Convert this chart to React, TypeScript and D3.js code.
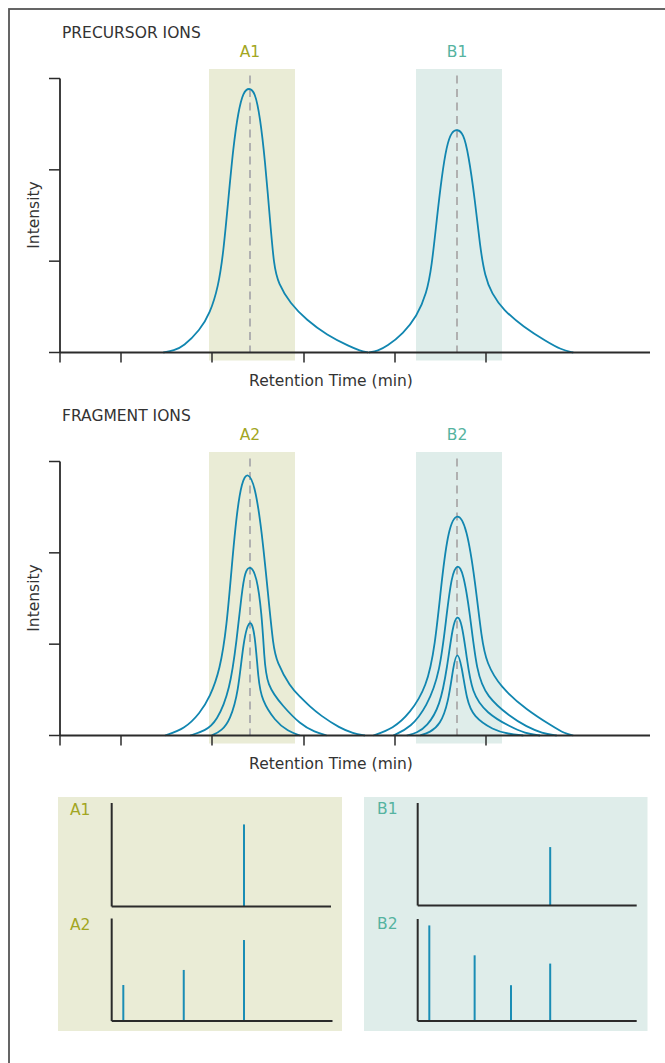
import React from 'react';
import * as d3 from 'd3';

const W = 665;
const H = 1063;
const FONT = "'DejaVu Sans', Verdana, sans-serif";
const FS = 15.5;
const CURVE_COLOR = '#1186b0';
const STICK_COLOR = '#1a8db5';
const A_COLOR = '#a2a622';
const B_COLOR = '#55b3a0';
const A_SHADE = '#eaecd6';
const B_SHADE = '#dfedea';
const AXIS = '#2b2b2b';
const TEXT = '#333333';

// Retention-time axis (arbitrary units) and intensity axis
const X_TICKS = [0, 6.1, 15.2, 24.4, 33.5, 42.6];
const Y_TICKS = [0, 100, 200, 300];
const PEAK_CENTERS = [19.0, 39.7];
const WINDOWS: [number, number][] = [[14.9, 23.5], [35.6, 44.2]];
const TOP_LABELS = ['A1', 'B1'];
const BOTTOM_LABELS = ['A2', 'B2'];

// Precursor chromatograms [time, intensity]
const A1_TRACE: [number, number][] = [
  [10.33, 0], [11.4, 2.2], [12.33, 6.4], [14.0, 24.6], [15.0, 42.9], [15.83, 72.0], [16.33, 108.6],
  [16.83, 167], [17.33, 225.3], [17.83, 264.0], [18.33, 285.5], [18.9, 290.0], [19.5, 285.5],
  [20.0, 258.2], [20.5, 210.8], [21.0, 145.1], [21.4, 93.9], [21.83, 75.8], [23.0, 53.9],
  [24.67, 35.6], [26.67, 19.2], [29.0, 6.4], [30.0, 2.0], [30.8, 0],
];
const B1_TRACE: [number, number][] = [
  [30.9, 0], [31.8, 2.0], [32.67, 6.4], [34.33, 21.0], [35.67, 39.2], [36.67, 64.8], [37.17, 93.9],
  [37.67, 145.1], [38.17, 192.5], [38.67, 227.0], [39.17, 242.0], [39.73, 244.5], [40.33, 240.0],
  [40.83, 218.1], [41.5, 167.0], [42.0, 115.8], [42.5, 83.0], [43.17, 64.8], [44.33, 46.5],
  [46.33, 28.2], [48.67, 11.8], [50.1, 3.2], [51.33, 0],
];

// Fragment chromatograms
const A2_TRACE_1: [number, number][] = [
  [10.5, 0], [12.5, 7.5], [14.0, 24.6], [15.0, 42.2], [16.0, 71.7], [16.67, 119.1], [17.17, 184.8],
  [17.67, 243.3], [18.17, 278.0], [18.77, 289.0], [19.5, 274.0], [20.17, 225.0], [20.83, 152.0],
  [21.33, 97.2], [21.67, 80.8], [23.0, 53.4], [24.0, 42.5], [25.0, 31.5], [26.0, 22.4],
  [28.0, 7.9], [29.3, 2.5], [30.5, 0],
];
const A2_TRACE_2: [number, number][] = [
  [13.0, 0], [14.5, 5.0], [15.67, 15.1], [17.0, 49.8], [17.67, 104.6], [18.17, 155.7], [18.5, 179.5],
  [19.0, 186.5], [19.67, 175.5], [20.17, 133.8], [20.43, 86.3], [20.65, 55.0], [22.33, 31.5],
  [24.0, 12.6], [25.5, 3.5], [26.67, 0],
];
const A2_TRACE_3: [number, number][] = [
  [15.17, 0], [16.2, 5.5], [17.0, 17.0], [17.83, 46.2], [18.33, 104.6], [19.0, 130.0], [19.5, 112.2],
  [19.83, 60.8], [20.17, 38.9], [21.5, 15.9], [22.8, 4.5], [24.0, 0],
];
const B2_TRACE_1: [number, number][] = [
  [31.33, 0], [33.3, 7.5], [35.0, 24.3], [36.67, 53.4], [37.5, 97.2], [38.17, 170.3], [38.83, 227.0],
  [39.73, 245.5], [40.67, 228.6], [41.5, 170.3], [42.17, 104.6], [42.67, 79.1], [44.0, 53.4],
  [46.67, 27.9], [49.33, 9.6], [50.4, 2.5], [51.33, 0],
];
const B2_TRACE_2: [number, number][] = [
  [33.33, 0], [35.1, 9.0], [36.67, 31.5], [38.0, 68.1], [38.67, 133.8], [39.17, 175.5], [39.73, 188.5],
  [40.33, 179.0], [41.0, 133.8], [41.67, 68.1], [42.67, 42.5], [45.0, 20.6], [46.67, 9.6],
  [48.2, 2.5], [49.67, 0],
];
const B2_TRACE_3: [number, number][] = [
  [34.67, 0], [35.7, 3.0], [36.67, 9.6], [38.0, 31.5], [38.73, 75.3], [39.27, 120.5], [39.73, 132.5],
  [40.17, 124.0], [40.67, 86.3], [41.17, 46.2], [42.67, 24.3], [45.0, 9.6], [46.5, 2.5], [48.0, 0],
];
const B2_TRACE_4: [number, number][] = [
  [36.0, 0], [37.0, 3.5], [38.0, 11.5], [38.83, 35.3], [39.33, 76.5], [39.73, 93.5], [40.17, 76.5],
  [40.67, 38.9], [41.33, 20.6], [43.33, 6.0], [44.8, 1.8], [46.33, 0],
];

// Mass spectra (m/z arbitrary 0-100, relative intensity 0-100)
const A1_MZ = [60.4];
const A1_INT = [79.3];
const A2_MZ = [5.3, 32.9, 60.4];
const A2_INT = [35.1, 49.8, 79.0];
const B1_MZ = [60.5];
const B1_INT = [57.0];
const B2_MZ = [5.3, 26.0, 42.6, 60.5];
const B2_INT = [93.7, 64.4, 35.1, 56.3];

const xScale = d3.scaleLinear().domain([0, 59]).range([60, 650]);

function Chromatogram({ top, title, labels, traces }: {
  top: number; title: string; labels: string[]; traces: [number, number][][][];
}) {
  const base = top + 274;
  const y = d3.scaleLinear().domain([0, 300]).range([base, top]);
  const line = d3.line<[number, number]>()
    .x((d) => xScale(d[0]))
    .y((d) => y(d[1]))
    .curve(d3.curveBasis);
  const shades = [A_SHADE, B_SHADE];
  const labelColors = [A_COLOR, B_COLOR];
  return (
    <g>
      <text x={62} y={top - 40.5} fontSize={FS} fill={TEXT} fontFamily={FONT}>{title}</text>
      {WINDOWS.map((w, i) => (
        <rect key={'s' + i} x={xScale(w[0])} y={top - 9.5} width={xScale(w[1]) - xScale(w[0])}
          height={base + 8 - (top - 9.5)} fill={shades[i]} />
      ))}
      {PEAK_CENTERS.map((c, i) => (
        <g key={'c' + i}>
          <line x1={xScale(c)} x2={xScale(c)} y1={top - 3} y2={base} stroke="#b0b0b0"
            strokeWidth={2} strokeDasharray="8,5.5" />
          <text x={xScale(c)} y={top - 21.5} textAnchor="middle" fontSize={FS}
            fill={labelColors[i]} fontFamily={FONT}>{labels[i]}</text>
        </g>
      ))}
      {traces.map((group, gi) => group.map((t, ti) => (
        <path key={gi + '-' + ti} d={line(t) || ''} fill="none" stroke={CURVE_COLOR} strokeWidth={1.8} />
      )))}
      <line x1={60} x2={60} y1={top} y2={base} stroke={AXIS} strokeWidth={1.8} />
      <line x1={60} x2={650} y1={base} y2={base} stroke={AXIS} strokeWidth={1.8} />
      {Y_TICKS.map((t) => (
        <line key={'yt' + t} x1={49} x2={60} y1={y(t)} y2={y(t)} stroke={AXIS} strokeWidth={1.5} />
      ))}
      {X_TICKS.map((t) => (
        <line key={'xt' + t} x1={xScale(t)} x2={xScale(t)} y1={base} y2={base + 10} stroke={AXIS} strokeWidth={1.5} />
      ))}
      <text x={331} y={base + 33} textAnchor="middle" fontSize={FS} fill={TEXT} fontFamily={FONT}>Retention Time (min)</text>
      <text transform={`translate(39,${top + 136.5}) rotate(-90)`} textAnchor="middle" fontSize={FS}
        fill={TEXT} fontFamily={FONT}>Intensity</text>
    </g>
  );
}

function Spectrum({ x0, x1, top, base, mz, inten }: {
  x0: number; x1: number; top: number; base: number; mz: number[]; inten: number[];
}) {
  const sx = d3.scaleLinear().domain([0, 100]).range([x0, x0 + 219]);
  const y = d3.scaleLinear().domain([0, 100]).range([base, top]);
  return (
    <g>
      {mz.map((m, i) => (
        <line key={i} x1={sx(m)} x2={sx(m)} y1={base} y2={y(inten[i])} stroke={STICK_COLOR} strokeWidth={2} />
      ))}
      <line x1={x0} x2={x0} y1={top} y2={base} stroke={AXIS} strokeWidth={2} />
      <line x1={x0} x2={x1} y1={base} y2={base} stroke={AXIS} strokeWidth={2} />
    </g>
  );
}

export default function App() {
  return (
    <svg width={W} height={H} style={{ position: 'absolute', left: 0, top: 0, background: '#fff' }}>
      <rect x={0} y={0} width={W} height={H} fill="#ffffff" />
      <rect x={9} y={9} width={720} height={1120} fill="none" stroke="#555555" strokeWidth={1.8} />
      <Chromatogram top={78.5} title="PRECURSOR IONS" labels={TOP_LABELS} traces={[[A1_TRACE], [B1_TRACE]]} />
      <Chromatogram top={461.5} title="FRAGMENT IONS" labels={BOTTOM_LABELS}
        traces={[[A2_TRACE_1, A2_TRACE_2, A2_TRACE_3], [B2_TRACE_1, B2_TRACE_2, B2_TRACE_3, B2_TRACE_4]]} />

      <rect x={58} y={797} width={284} height={234} fill={A_SHADE} />
      <rect x={364} y={797} width={283.5} height={234} fill={B_SHADE} />
      <text x={70} y={815} fontSize={FS} fill={A_COLOR} fontFamily={FONT}>A1</text>
      <text x={70} y={930} fontSize={FS} fill={A_COLOR} fontFamily={FONT}>A2</text>
      <text x={377} y={814} fontSize={FS} fill={B_COLOR} fontFamily={FONT}>B1</text>
      <text x={377} y={929} fontSize={FS} fill={B_COLOR} fontFamily={FONT}>B2</text>
      <Spectrum x0={111.7} x1={331} top={803} base={906.5} mz={A1_MZ} inten={A1_INT} />
      <Spectrum x0={111.7} x1={332.5} top={918.5} base={1021} mz={A2_MZ} inten={A2_INT} />
      <Spectrum x0={417.7} x1={636.7} top={803} base={905.5} mz={B1_MZ} inten={B1_INT} />
      <Spectrum x0={417.7} x1={636.7} top={919} base={1021} mz={B2_MZ} inten={B2_INT} />
    </svg>
  );
}
